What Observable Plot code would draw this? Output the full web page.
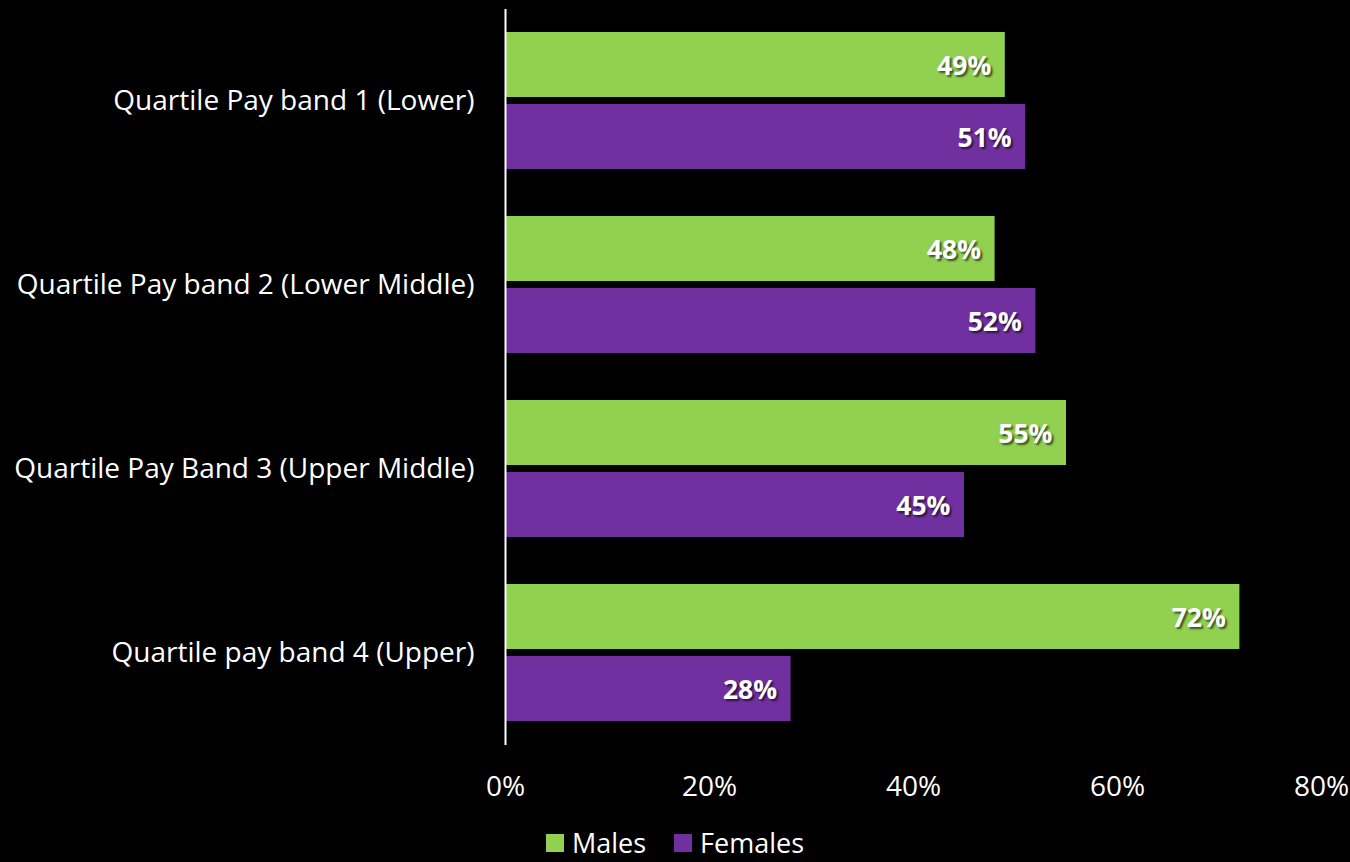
<!DOCTYPE html>
<html><head><meta charset="utf-8">
<script src="https://cdn.jsdelivr.net/npm/d3@7"></script>
<script src="https://cdn.jsdelivr.net/npm/@observablehq/plot@0.6"></script>
<style>
html,body{margin:0;padding:0;background:#000;overflow:hidden;}
#chart svg{display:block;}
g[aria-label="text"] text{ text-shadow: 2px 2px 2px rgba(0,0,0,0.6); }
.legend{height:38px;display:flex;justify-content:center;align-items:center;gap:28px;font-family:"Open Sans",sans-serif;font-size:27px;color:#fff;line-height:38px;}
.legend span.item{display:flex;align-items:center;}
.legend span.sw{display:inline-block;width:18px;height:18px;margin-right:8px;}
</style></head><body>
<div id="chart"></div>
<div class="legend" id="legend"></div>
<script>
const categories = [
  "Quartile Pay band 1 (Lower)",
  "Quartile Pay band 2 (Lower Middle)",
  "Quartile Pay Band 3 (Upper Middle)",
  "Quartile pay band 4 (Upper)"
];
const males = [49, 48, 55, 72];
const females = [51, 52, 45, 28];
const series = ["Males", "Females"];
const colors = ["#92D050", "#7030A0"];
const xTicks = [0, 20, 40, 60, 80];

const data = categories.flatMap((c, i) => [
  {cat: c, sex: series[0], value: males[i]},
  {cat: c, sex: series[1], value: females[i]}
]);

const chart = Plot.plot({
  width: 1350, height: 824,
  marginLeft: 505, marginRight: 29, marginTop: 9, marginBottom: 79,
  style: {background: "#000", color: "#fff", fontFamily: "'Open Sans', sans-serif", fontSize: "28px"},
  x: {domain: [0, 80], ticks: xTicks, tickFormat: d => d + "%", label: null, tickSize: 0, tickPadding: 31},
  fy: {domain: categories, padding: 0, label: null, tickSize: 0, tickPadding: 31, axis: "left"},
  y: {domain: series, paddingInner: 0.097, paddingOuter: 0.326, axis: null},
  color: {domain: series, range: colors},
  marks: [
    Plot.barX(data, {x: "value", y: "sex", fy: "cat", fill: "sex"}),
    Plot.text(data, {x: "value", y: "sex", fy: "cat", text: d => d.value + "%", textAnchor: "end", dx: -14, dy: 2, fill: "#fff", fontWeight: "bold", fontSize: 26.5}),
    Plot.ruleX([0], {stroke: "#fff", strokeWidth: 2})
  ]
});
document.getElementById("chart").appendChild(chart);

const legend = document.getElementById("legend");
series.forEach((s, i) => {
  const item = document.createElement("span");
  item.className = "item";
  const sw = document.createElement("span");
  sw.className = "sw";
  sw.style.background = colors[i];
  item.appendChild(sw);
  item.appendChild(document.createTextNode(s));
  legend.appendChild(item);
});
</script>
</body></html>
